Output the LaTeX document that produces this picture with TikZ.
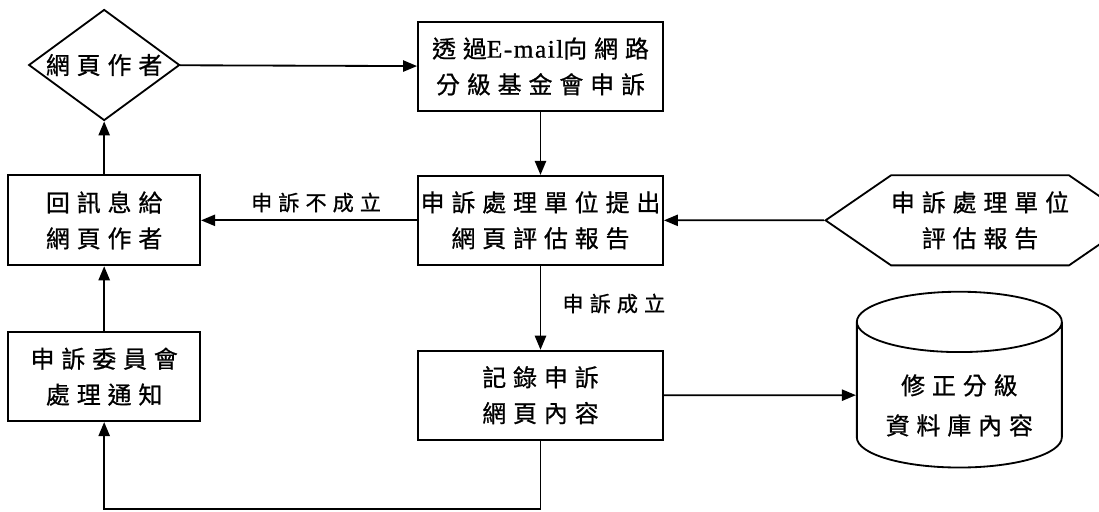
\documentclass[tikz,border=0pt]{standalone}
\usepackage{fontspec}
\usepackage{tikz}
\usetikzlibrary{arrows.meta, shapes.geometric, shapes.symbols, positioning, calc}
\newfontfamily\cjkfont[LetterSpace=29, FakeBold=0.8]{Noto Sans CJK TC}
\newfontfamily\latinfont[LetterSpace=6, FakeBold=0.8]{Liberation Serif}
\tikzset{
  >={Triangle[length=10pt, width=8pt]},
  box/.style     = {draw, rectangle, line width=1.3pt,
                    minimum width=6.125cm, minimum height=2.225cm,
                    inner sep=0pt, align=center,
                    font=\cjkfont\fontsize{17pt}{25.5pt}\selectfont},
  sidebox/.style = {box, minimum width=4.8cm},
  author/.style  = {box, diamond, aspect=1.36,
                    minimum width=3.775cm, minimum height=2.775cm},
  report/.style  = {box, signal, signal to=east and west,
                    signal pointer angle=69,
                    minimum width=6.875cm, minimum height=2.25cm},
  dbase/.style   = {box, cylinder, shape border rotate=90, aspect=0.41,
                    minimum width=5.125cm, minimum height=4.325cm,
                    text height=58pt, text depth=2pt,
                    font=\cjkfont\fontsize{17pt}{28.5pt}\selectfont},
  lbl/.style     = {font=\cjkfont\fontsize{15pt}{18pt}\selectfont,
                    inner sep=1pt},
  arrow/.style   = {->, line width=1.3pt},
}
\begin{document}
\begin{tikzpicture}[node distance = 1.575cm and 5.4cm]
  \useasboundingbox (0,0) rectangle (27.475,-12.775);

  % Middle column: complaint path
  \node[box] at (13.5125,-1.6625) (mail)
        {透過{\latinfont\fontsize{18pt}{25.5pt}\selectfont E-mail}向網路\\分級基金會申訴};
  \node[box, below=of mail]         (eval)  {申訴處理單位提出\\網頁評估報告};
  \node[box, below=2.1cm of eval]   (rec)   {記錄申訴\\網頁內容};

  % Left column: replies to the author
  \node[sidebox, left=of eval, minimum height=2.25cm] (reply) {回訊息給\\網頁作者};
  \node[sidebox, below=1.625cm of reply]  (notice) {申訴委員會\\處理通知};
  \node[author, above=1.325cm of reply]   (writer) {網頁作者};

  % Right column: report and database
  \node[report, right=4cm of eval]  (unit) {申訴處理單位\\評估報告};
  \node[dbase, right=4.8cm of rec]  (db)   {修正分級\\資料庫內容};

  % Edges
  \foreach \a/\b in {writer/mail, mail/eval, unit/eval, rec/db,
                     notice/reply, reply/writer}
    \draw[arrow] (\a) -- (\b);
  \draw[arrow] (eval) -- node[lbl, above=4pt, xshift=0.175cm] (nofail) {申訴不成立} (reply);
  \draw[arrow] (eval) -- node[lbl, right=14pt, pos=0.45] (pass) {申訴成立} (rec);

  % Loop back to the committee
  \coordinate (turn) at ($(rec.south)+(0,-1.72)$);
  \draw[arrow] (rec.south) -- (turn) -| (notice.south);
\end{tikzpicture}
\end{document}
